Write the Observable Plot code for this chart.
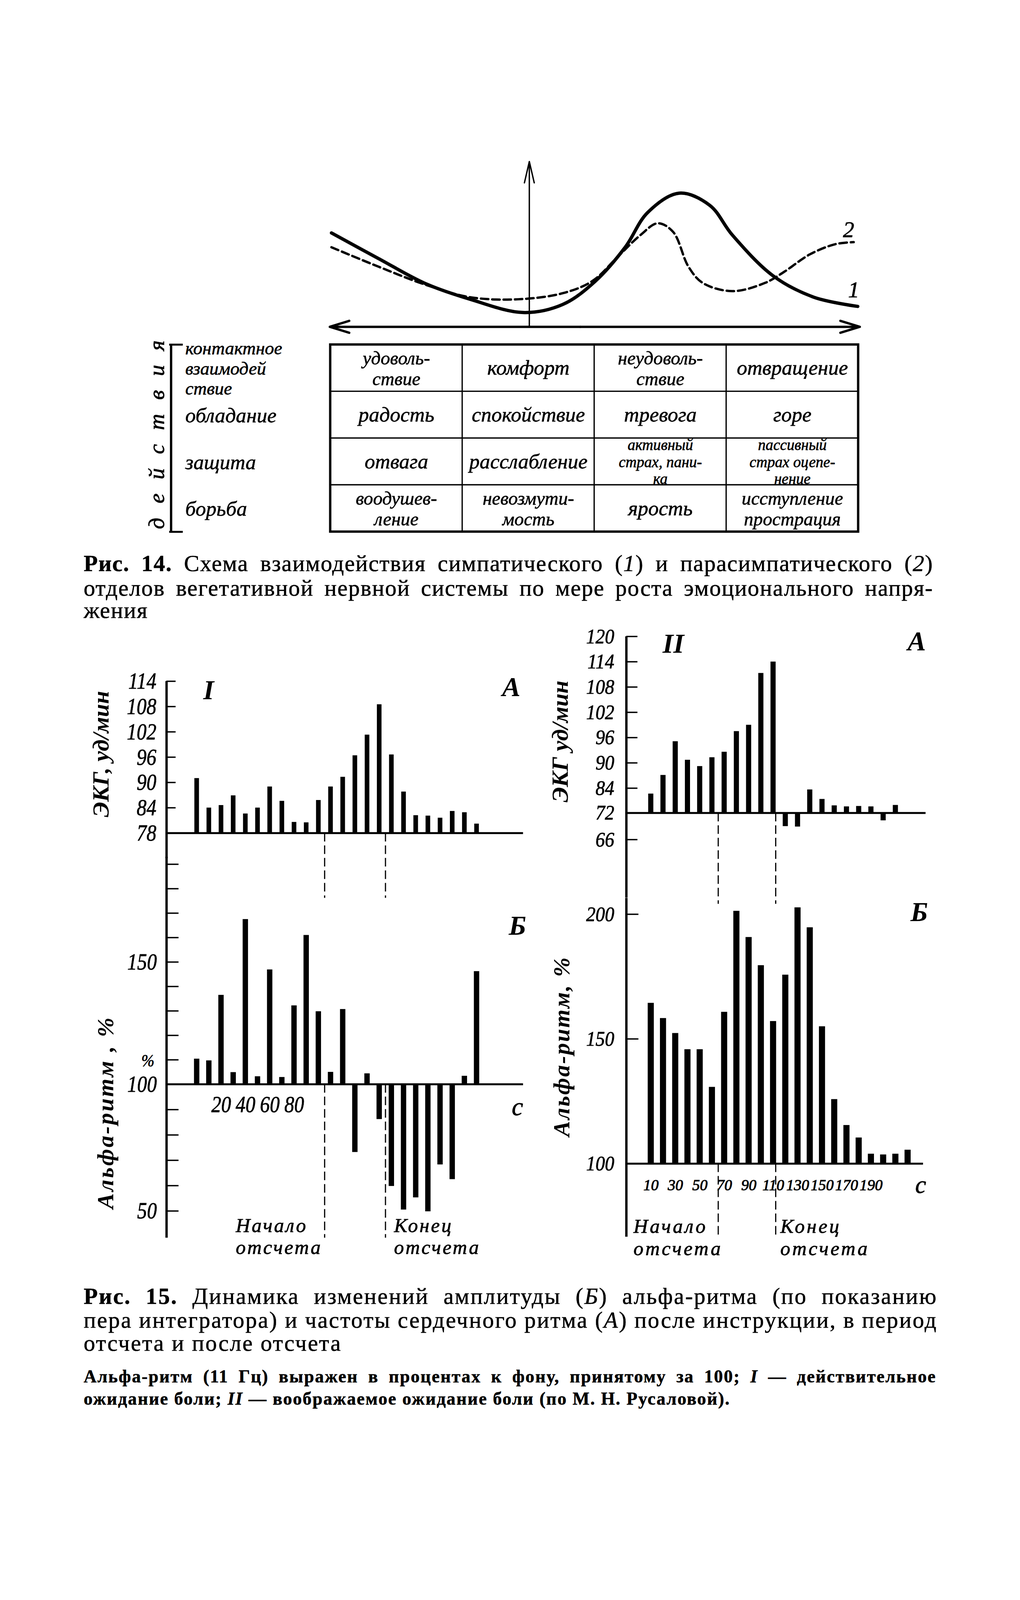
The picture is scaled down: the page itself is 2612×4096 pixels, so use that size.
<!DOCTYPE html>
<html><head><meta charset="utf-8">
<script src="https://cdn.jsdelivr.net/npm/d3@7"></script>
<script src="https://cdn.jsdelivr.net/npm/@observablehq/plot@0.6"></script>
<style>
html,body{margin:0;padding:0;background:#fff;}
#page{position:relative;width:2612px;height:4096px;overflow:hidden;background:#fff;}
.cap{position:absolute;font-family:"Liberation Serif","Times New Roman",serif;color:#000;white-space:nowrap;line-height:1;-webkit-text-stroke:0.7px #000;}
</style></head><body><div id="page"></div>
<script>
// ---------------- DATA ----------------
// Fig. 14 schematic curves (x: emotional tension, y: activity; arbitrary units)
const curve1X = [-19.4,-14.8,-10.1,-5.8,-0.6,3.3,6.5,9.4,11.6,14.7,17.7,19.9,23.9,27.9,32.2];
const curve1Y = [9.2,6.7,4.2,2.7,1.4,2.2,4.5,7.8,11.2,13.1,11.9,9.0,5.0,2.9,2.0];
const curve2X = [-19.4,-14.8,-10.1,-5.8,-1.1,3.3,6.2,8.7,10.9,12.6,14.1,15.6,17.0,19.9,23.1,25.0,27.5,30.0,31.8];
const curve2Y = [7.8,5.9,4.1,2.9,2.7,3.3,4.5,6.9,9.0,10.15,9.3,5.9,4.3,3.5,4.3,5.4,7.1,8.1,8.3];

// Fig. 14 table
const rowLabels = ["контактное\nвзаимодей\nствие","обладание","защита","борьба"];
const tableCells = [
  ["удоволь-\nствие","комфорт","неудоволь-\nствие","отвращение"],
  ["радость","спокойствие","тревога","горе"],
  ["отвага","расслабление","активный\nстрах, пани-\nка","пассивный\nстрах оцепе-\nнение"],
  ["воодушев-\nление","невозмути-\nмость","ярость","исступление\nпрострация"]
];
const sideLabel = "действия";

// Fig. 15, I (real expectation of pain)
const timeI  = [0,10,20,30,40,50,60,70,80,90,100,110,120,130,140,150,160,170,180,190,200,210,220,230];
const ecgI   = [91,84,84.6,86.9,82.6,84,89,85.6,80.6,80.5,85.8,89,91.3,96.4,101.3,108.5,96.6,87.8,82.2,82.1,81.6,83.2,82.9,80.2];
const alphaI = [110.4,109.7,136.5,104.9,167.5,103.2,146.9,102.9,132.2,161,129.8,105,130.7,73.2,104.4,86.2,59.8,50.5,55.3,49.8,68.3,62.5,103.4,146.2];
const countI = [105,155];
const ticksIA = [78,84,90,96,102,108,114];
const ticksIB = [50,60,70,80,90,100,110,120,130,140,150,160,170,180,190];
const labelsIB = [50,100,150];
const xLabelsI = [20,40,60,80];

// Fig. 15, II (imaginary expectation of pain)
const timeIIA = [10,20,30,40,50,60,70,80,90,100,110,120,130,140,150,160,170,180,190,200,210];
const ecgII   = [81.3,87.1,95.1,90.7,89.2,91.3,92.6,97.5,99.0,111.3,114.0,69.0,68.9,83.3,78.7,75.6,75.1,75.3,75.1,70.3,75.8];
const timeIIB = [10,20,30,40,50,60,70,80,90,100,110,120,130,140,150,160,170,180,190,200,210,220];
const alphaII = [164.4,158.3,152.3,145.8,145.8,130.7,160.8,201.3,190.8,179.5,157.1,175.7,202.7,194.7,155,125.8,115.4,110.4,103.9,103.6,103.9,105.5];
const countII = [65,112];
const ticksIIA = [66,72,84,90,96,102,108,114,120];
const ticksIIB = [100,150,200];
const xLabelsII = [10,30,50,70,90,110,130,150,170,190];

// Captions
const cap14 = [
  '<b>Рис. 14.</b> Схема взаимодействия симпатического (<i>1</i>) и парасимпатического (<i>2</i>)',
  'отделов вегетативной нервной системы по мере роста эмоционального напря-',
  'жения'];
const cap15 = [
  '<b>Рис. 15.</b> Динамика изменений амплитуды (<i>Б</i>) альфа-ритма (по показанию',
  'пера интегратора) и частоты сердечного ритма (<i>А</i>) после инструкции, в период',
  'отсчета и после отсчета'];
const note15 = [
  'Альфа-ритм (11 Гц) выражен в процентах к фону, принятому за 100; <i>I</i> — действительное',
  'ожидание боли; <i>II</i> — воображаемое ожидание боли (по М. Н. Русаловой).'];

// ---------------- RENDER ----------------
const S = 2.612;
const page = document.getElementById("page");
const FF = "Liberation Serif, Times New Roman, serif";
const COND = k => "Liberation Serif, cond" + k;
const SPC = k => "Liberation Serif, spc" + k;

function post(svg){
  svg.querySelectorAll("g[font-family]").forEach(g=>{
    const ff = g.getAttribute("font-family") || "";
    const m = ff.match(/cond(\d+)/);
    if (m) {
      const k = +m[1]/100;
      g.querySelectorAll("text").forEach(t=>{
        if (t.querySelector("tspan")) return;
        const w = t.getComputedTextLength();
        t.setAttribute("textLength", (w*k).toFixed(2));
        t.setAttribute("lengthAdjust", "spacingAndGlyphs");
      });
    }
    const s = ff.match(/spc(\d+)/);
    if (s) g.setAttribute("letter-spacing", s[1]+"px");
  });
}
function mk(o){
  const p = Plot.plot({
    width: o.W*S, height: o.H*S,
    marginTop:0, marginRight:0, marginBottom:0, marginLeft:0,
    x: {type:"linear", domain:o.x.domain, range:o.x.range.map(v=>(v-o.L)*S), axis:null},
    y: {type:"linear", domain:o.y.domain, range:o.y.range.map(v=>(v-o.T)*S), axis:null},
    style: {background:"transparent", overflow:"visible", color:"#000"},
    marks: o.marks
  });
  p.style.position = "absolute"; p.style.left = (o.L*S)+"px"; p.style.top = (o.T*S)+"px";
  page.appendChild(p);
  post(p);
  return p;
}
function captionLines(lines, L, centers, W, fs, bold){
  let ls = 0;
  lines.forEach((html,i)=>{
    const d = document.createElement("div");
    d.className = "cap";
    d.style.left = (L*S)+"px";
    d.style.top = ((centers[i]-0.56*fs)*S)+"px";
    d.style.fontSize = (fs*S)+"px";
    if (bold) d.style.fontWeight = "bold";
    d.innerHTML = html;
    page.appendChild(d);
    if (i < lines.length-1){
      const w0 = d.getBoundingClientRect().width;
      const nC = d.textContent.length;
      const nS = (d.textContent.match(/ /g)||[]).length;
      const lsi = Math.max(0, (W*S - w0)*0.55/nC);
      if (i === 0) ls = lsi;
      d.style.letterSpacing = ls+"px";
      const w1 = d.getBoundingClientRect().width;
      if (nS) d.style.wordSpacing = ((W*S - w1)/nS)+"px";
    } else {
      d.style.letterSpacing = ls+"px";
    }
  });
}
const T1 = {fontFamily:FF, fontStyle:"italic", fill:"#000", stroke:"#000", strokeWidth:1};
const TB = {fontFamily:FF, fontStyle:"italic", fontWeight:"bold", fill:"#000"};

// ---- Fig. 14 curves ----
const curve1 = curve1X.map((x,i)=>({x, y:curve1Y[i]}));
const curve2 = curve2X.map((x,i)=>({x, y:curve2Y[i]}));
mk({L:300, T:140, W:560, H:195,
  x:{domain:[-20,33], range:[318.6,848.6]},
  y:{domain:[0,17], range:[320,150]},
  marks:[
    Plot.arrow([0], {x1:0, y1:0, x2:0, y2:16.2, stroke:"#000", strokeWidth:3.5, headLength:24, headAngle:26}),
    Plot.arrow([0], {x1:5, y1:0, x2:-19.56, y2:0, stroke:"#000", strokeWidth:6, headLength:13, headAngle:34}),
    Plot.arrow([0], {x1:5, y1:0, x2:32.4, y2:0, stroke:"#000", strokeWidth:6, headLength:13, headAngle:34}),
    Plot.line(curve2, {x:"x", y:"y", curve:"catmull-rom", stroke:"#000", strokeWidth:6, strokeDasharray:"19,10"}),
    Plot.line(curve1, {x:"x", y:"y", curve:"catmull-rom", stroke:"#000", strokeWidth:8.5}),
    Plot.text(["2"], {x:31.3, y:9.5, text:d=>d, ...T1, fontSize:22*S}),
    Plot.text(["1"], {x:31.8, y:3.6, text:d=>d, ...T1, fontSize:22*S})
  ]});

// ---- Fig. 14 table ----
const cells = [];
tableCells.forEach((row,r)=>row.forEach((t,c)=>cells.push({row:r, col:c, text:t})));
const nLines = d => d.text.split("\n").length;
const cellText = {x:d=>d.col+0.5, y:d=>d.row+0.5, text:"text", ...T1, strokeWidth:0.8};
mk({L:140, T:330, W:710, H:200,
  x:{domain:[0,4], range:[323.6,841.2]},
  y:{domain:[0,4], range:[337.6,521]},
  marks:[
    Plot.rect(cells, {x1:"col", x2:d=>d.col+1, y1:"row", y2:d=>d.row+1, fill:"#fff", stroke:"#000", strokeWidth:3.2}),
    Plot.rect([0], {x1:0, x2:4, y1:0, y2:4, fill:"none", stroke:"#000", strokeWidth:6}),
    Plot.text(cells.filter(d=>nLines(d)===1), {...cellText, fontSize:20.5*S}),
    Plot.text(cells.filter(d=>nLines(d)===2), {...cellText, fontSize:18.5*S, lineHeight:1.1}),
    Plot.text(cells.filter(d=>nLines(d)===3), {...cellText, fontSize:15*S, lineHeight:1.1}),
    Plot.text(rowLabels, {x:-1.099, y:(d,i)=>i+0.5, text:d=>d, textAnchor:"start", ...T1, strokeWidth:0.8, fontSize:(d,i)=>(i===0?18:20.5)*S, lineHeight:1.1}),
    Plot.ruleX([-1.207], {y1:0, y2:4, stroke:"#000", strokeWidth:6}),
    Plot.ruleY([0,4], {x1:-1.22, x2:-1.117, stroke:"#000", strokeWidth:5}),
    Plot.text([sideLabel], {x:-1.315, y:1.775, text:d=>d, rotate:-90, ...T1, fontFamily:SPC(36), fontSize:22*S})
  ]});

// ---- Fig. 15, I ----
const xI = {domain:[0,230], range:[192.7,467.1]};
const axI = -24.9;
const dIA = timeI.map((t,i)=>({t, v:ecgI[i]}));
const dIB = timeI.map((t,i)=>({t, v:alphaI[i]}));
mk({L:60, T:640, W:470, H:260, x:xI,
  y:{domain:[78,114], range:[816.2,667.4]},
  marks:[
    Plot.rect(dIA, {x1:d=>d.t-1.9, x2:d=>d.t+1.9, y1:78, y2:"v", fill:"#000"}),
    Plot.ruleY([78], {x1:axI, x2:268.2, stroke:"#000", strokeWidth:5}),
    Plot.ruleX([axI], {y1:114, y2:72, stroke:"#000", strokeWidth:6}),
    Plot.ruleY(ticksIA, {x1:axI, x2:axI+7.6, stroke:"#000", strokeWidth:3.5}),
    Plot.text(ticksIA, {x:axI, y:d=>d, text:d=>String(d), textAnchor:"end", dx:-10*S, ...T1, fontFamily:COND(84), fontSize:23*S}),
    Plot.ruleX(countI, {y1:78, y2:62.6, stroke:"#000", strokeWidth:3, strokeDasharray:"22,10"}),
    Plot.text(["ЭКГ, уд/мин"], {x:-78.7, y:96.75, text:d=>d, rotate:-90, ...TB, fontSize:23*S}),
    Plot.text(["I"], {x:9.7, y:111.8, text:d=>d, ...TB, fontSize:27*S}),
    Plot.text(["А"], {x:258.4, y:112.6, text:d=>d, ...TB, fontSize:27*S})
  ]});
mk({L:60, T:830, W:470, H:410, x:xI,
  y:{domain:[50,100,150], range:[1186.7,1062.5,942.7]},
  marks:[
    Plot.rect(dIB, {x1:d=>d.t-2.2, x2:d=>d.t+2.2, y1:100, y2:"v", fill:"#000"}),
    Plot.ruleY([100], {x1:axI, x2:268.2, stroke:"#000", strokeWidth:5}),
    Plot.ruleX([axI], {y1:193, y2:39.4, stroke:"#000", strokeWidth:6}),
    Plot.ruleY(ticksIB, {x1:axI, x2:axI+10, stroke:"#000", strokeWidth:3.5}),
    Plot.text(labelsIB, {x:axI, y:d=>d, text:d=>String(d), textAnchor:"end", dx:-9.5*S, ...T1, fontFamily:COND(84), fontSize:23*S}),
    Plot.text(["%"], {x:axI, y:109.6, text:d=>d, textAnchor:"end", dx:-12*S, ...T1, fontFamily:COND(90), fontSize:17*S}),
    Plot.text(xLabelsI, {x:d=>d, y:92, text:d=>String(d), ...T1, fontFamily:COND(84), fontSize:23*S}),
    Plot.text(["с"], {x:263.4, y:91, text:d=>d, ...T1, fontSize:25*S}),
    Plot.ruleX(countI, {y1:100, y2:39.4, stroke:"#000", strokeWidth:3, strokeDasharray:"22,10"}),
    Plot.text(["Начало\nотсчета"], {x:32, y:40.1, text:d=>d, textAnchor:"start", ...T1, fontFamily:SPC(4), fontSize:19.5*S, lineHeight:1.1}),
    Plot.text(["Конец\nотсчета"], {x:162, y:40.1, text:d=>d, textAnchor:"start", ...T1, fontFamily:SPC(4), fontSize:19.5*S, lineHeight:1.1}),
    Plot.text(["Б"], {x:263.5, y:164.7, text:d=>d, ...TB, fontSize:27*S}),
    Plot.text(["Альфа-ритм , %"], {x:-75, y:88.9, text:d=>d, rotate:-90, ...TB, fontFamily:SPC(4), fontSize:23*S})
  ]});

// ---- Fig. 15, II ----
const xII = {domain:[10,220], range:[638.1,889.9]};
const axII = -10.1;
const dIIA = timeIIA.map((t,i)=>({t, v:ecgII[i]}));
const dIIB = timeIIB.map((t,i)=>({t, v:alphaII[i]}));
mk({L:520, T:600, W:410, H:300, x:xII,
  y:{domain:[66,72,84,120], range:[822.8,796.7,772.4,623.7]},
  marks:[
    Plot.rect(dIIA, {x1:d=>d.t-2.1, x2:d=>d.t+2.1, y1:72, y2:"v", fill:"#000"}),
    Plot.ruleY([72], {x1:axII, x2:234.7, stroke:"#000", strokeWidth:5}),
    Plot.ruleX([axII], {y1:120, y2:52.9, stroke:"#000", strokeWidth:6}),
    Plot.ruleY(ticksIIA, {x1:axII, x2:axII+9.2, stroke:"#000", strokeWidth:3.5}),
    Plot.text(ticksIIA, {x:axII, y:d=>d, text:d=>String(d), textAnchor:"end", dx:-11.8*S, ...T1, fontFamily:COND(90), fontSize:20.5*S}),
    Plot.ruleX(countII, {y1:72, y2:51.5, stroke:"#000", strokeWidth:3, strokeDasharray:"22,10"}),
    Plot.text(["ЭКГ уд/мин"], {x:-64, y:95.1, text:d=>d, rotate:-90, ...TB, fontSize:23*S}),
    Plot.text(["II"], {x:28.3, y:118.2, text:d=>d, ...TB, fontSize:27*S}),
    Plot.text(["А"], {x:227.3, y:118.8, text:d=>d, ...TB, fontSize:27*S})
  ]});
mk({L:520, T:860, W:410, H:380, x:xII,
  y:{domain:[100,200], range:[1140.4,896]},
  marks:[
    Plot.rect(dIIB, {x1:d=>d.t-2.5, x2:d=>d.t+2.5, y1:100, y2:"v", fill:"#000"}),
    Plot.ruleY([100], {x1:axII, x2:232.6, stroke:"#000", strokeWidth:5}),
    Plot.ruleX([axII], {y1:206.5, y2:70.6, stroke:"#000", strokeWidth:6}),
    Plot.ruleY([150,200], {x1:axII, x2:axII+10, stroke:"#000", strokeWidth:3.5}),
    Plot.text(ticksIIB, {x:axII, y:d=>d, text:d=>String(d), textAnchor:"end", dx:-11.8*S, ...T1, fontFamily:COND(90), fontSize:20.5*S}),
    Plot.text(xLabelsII, {x:d=>d, y:91.3, text:d=>String(d), ...T1, strokeWidth:1.2, fontSize:15*S}),
    Plot.text(["с"], {x:230.5, y:91.3, text:d=>d, ...T1, fontSize:24*S}),
    Plot.ruleX(countII, {y1:100, y2:70.6, stroke:"#000", strokeWidth:3, strokeDasharray:"22,10"}),
    Plot.text(["Начало\nотсчета"], {x:-4.3, y:70.6, text:d=>d, textAnchor:"start", ...T1, fontFamily:SPC(5), fontSize:19.5*S, lineHeight:1.1}),
    Plot.text(["Конец\nотсчета"], {x:115.8, y:70.6, text:d=>d, textAnchor:"start", ...T1, fontFamily:SPC(5), fontSize:19.5*S, lineHeight:1.1}),
    Plot.text(["Б"], {x:229.3, y:200.8, text:d=>d, ...TB, fontSize:27*S}),
    Plot.text(["Альфа-ритм, %"], {x:-62.9, y:147, text:d=>d, rotate:-90, ...TB, fontFamily:SPC(3), fontSize:23*S})
  ]});

// ---- Captions ----
captionLines(cap14, 82, [554,578,600], 833, 22.5, false);
captionLines(cap15, 82, [1272,1295.5,1318], 837, 22.5, false);
captionLines(note15, 82, [1350,1372], 836, 17.5, true);
</script>
</body></html>
